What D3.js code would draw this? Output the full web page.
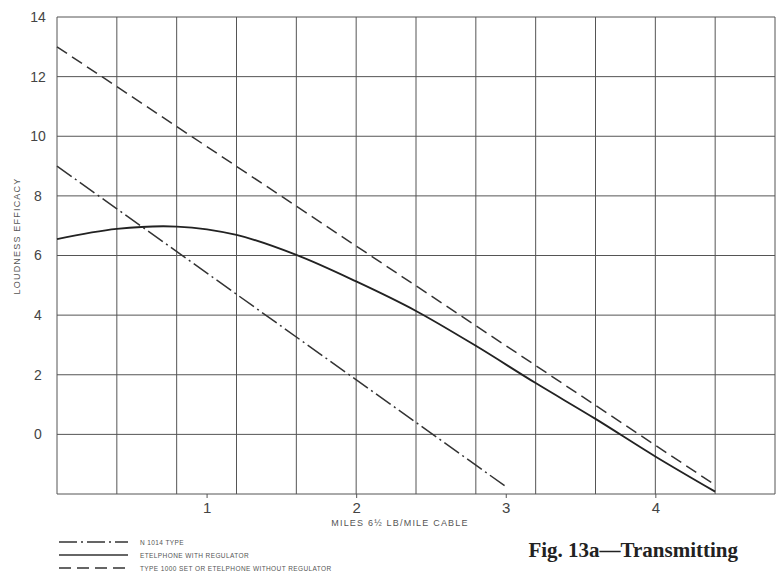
<!DOCTYPE html>
<html>
<head>
<meta charset="utf-8">
<script src="https://cdn.jsdelivr.net/npm/d3@7"></script>
<style>
  body { margin: 0; background: #fff; }
  svg { display: block; }
  .grid line { stroke: #555; stroke-width: 1; }
  .axis text { font-family: "Liberation Sans", Arial, sans-serif; fill: #444; }
  .axis path, .axis line { stroke: #555; }
</style>
</head>
<body>
<div id="chart"></div>
<script>
// values
const etelMiles = [0, 0.4, 0.8, 1.2, 1.6, 2.0, 2.4, 2.8, 3.2, 3.6, 4.0, 4.4];
const etelReg   = [6.55, 6.89, 6.97, 6.69, 6.02, 5.13, 4.14, 2.97, 1.72, 0.52, -0.74, -1.92];
const n1014Miles = [0, 3.0];
const n1014      = [9, -1.75];
const type1000Miles = [0, 4.4];
const type1000      = [13, -1.7];
const xTicks = [1, 2, 3, 4];
const yTicks = [0, 2, 4, 6, 8, 10, 12, 14];
const xGrid = [0, 0.4, 0.8, 1.2, 1.6, 2.0, 2.4, 2.8, 3.2, 3.6, 4.0, 4.4, 4.8];
const yGrid = [-2, 0, 2, 4, 6, 8, 10, 12, 14];
const legendLabels = ["N 1014  TYPE", "ETELPHONE  WITH  REGULATOR", "TYPE  1000  SET  OR  ETELPHONE  WITHOUT  REGULATOR"];

const width = 780, height = 575;
const svg = d3.select('#chart').append('svg')
  .attr('width', width)
  .attr('height', height);

const x = d3.scaleLinear().domain([0, 4.8]).range([57, 775]);
const y = d3.scaleLinear().domain([-2, 14]).range([494, 17]);

// grid
const grid = svg.append('g').attr('class', 'grid');
grid.selectAll('line.v').data(xGrid).enter().append('line')
  .attr('class', 'v')
  .attr('x1', d => x(d)).attr('x2', d => x(d))
  .attr('y1', y(14)).attr('y2', y(-2));
grid.selectAll('line.h').data(yGrid).enter().append('line')
  .attr('class', 'h')
  .attr('x1', x(0)).attr('x2', x(4.8))
  .attr('y1', d => y(d)).attr('y2', d => y(d));

// axes
const yAxis = d3.axisLeft(y).tickValues(yTicks).tickSize(0).tickFormat(d3.format('d'));
const gy = svg.append('g').attr('class', 'axis')
  .attr('transform', 'translate(' + x(0) + ',0)')
  .call(yAxis);
gy.select('.domain').remove();
gy.selectAll('text')
  .attr('x', -19)
  .attr('text-anchor', 'middle')
  .style('font-size', '14px');

const xAxis = d3.axisBottom(x).tickValues(xTicks).tickSize(4).tickPadding(4).tickFormat(d3.format('d'));
const gx = svg.append('g').attr('class', 'axis')
  .attr('transform', 'translate(0,' + y(-2) + ')')
  .call(xAxis);
gx.select('.domain').remove();
gx.selectAll('text').style('font-size', '15px');

// axis titles
svg.append('text')
  .attr('transform', 'translate(20,' + 236 + ') rotate(-90)')
  .attr('text-anchor', 'middle')
  .style('font-family', '"Liberation Sans", Arial, sans-serif')
  .style('font-size', '9px')
  .style('letter-spacing', '1.2px')
  .style('fill', '#555')
  .text('LOUDNESS  EFFICACY');

svg.append('text')
  .attr('x', 400).attr('y', 526)
  .attr('text-anchor', 'middle')
  .style('font-family', '"Liberation Sans", Arial, sans-serif')
  .style('font-size', '9px')
  .style('letter-spacing', '1.2px')
  .style('fill', '#555')
  .text('MILES  6½  LB/MILE  CABLE');

// series
const line = d3.line()
  .x(d => x(d[0]))
  .y(d => y(d[1]));

const dashDot = '18,4,2,4';
const dashed = '12,6';

svg.append('path')
  .datum(d3.zip(n1014Miles, n1014))
  .attr('d', line)
  .attr('fill', 'none')
  .attr('stroke', '#333')
  .attr('stroke-width', 1.5)
  .attr('stroke-dasharray', dashDot);

svg.append('path')
  .datum(d3.zip(type1000Miles, type1000))
  .attr('d', line)
  .attr('fill', 'none')
  .attr('stroke', '#333')
  .attr('stroke-width', 1.5)
  .attr('stroke-dasharray', dashed);

svg.append('path')
  .datum(d3.zip(etelMiles, etelReg))
  .attr('d', line.curve(d3.curveCatmullRom.alpha(0.5)))
  .attr('fill', 'none')
  .attr('stroke', '#222')
  .attr('stroke-width', 1.8);

// legend
const dashes = [dashDot, null, dashed];
const legend = svg.append('g');
legendLabels.forEach((lab, i) => {
  const ly = 542 + i * 13;
  legend.append('line')
    .attr('x1', 59).attr('x2', 128)
    .attr('y1', ly).attr('y2', ly)
    .attr('stroke', '#333')
    .attr('stroke-width', 1.5)
    .attr('stroke-dasharray', dashes[i]);
  legend.append('text')
    .attr('x', 140).attr('y', ly + 2.5)
    .style('font-family', '"Liberation Sans", Arial, sans-serif')
    .style('font-size', '6.5px')
    .style('letter-spacing', '0.4px')
    .style('fill', '#555')
    .text(lab);
});

// caption
svg.append('text')
  .attr('x', 738).attr('y', 557)
  .attr('text-anchor', 'end')
  .style('font-family', '"Liberation Serif", "Times New Roman", serif')
  .style('font-weight', 'bold')
  .style('font-size', '21px')
  .style('fill', '#222')
  .text('Fig. 13a\u2014Transmitting');
</script>
</body>
</html>
